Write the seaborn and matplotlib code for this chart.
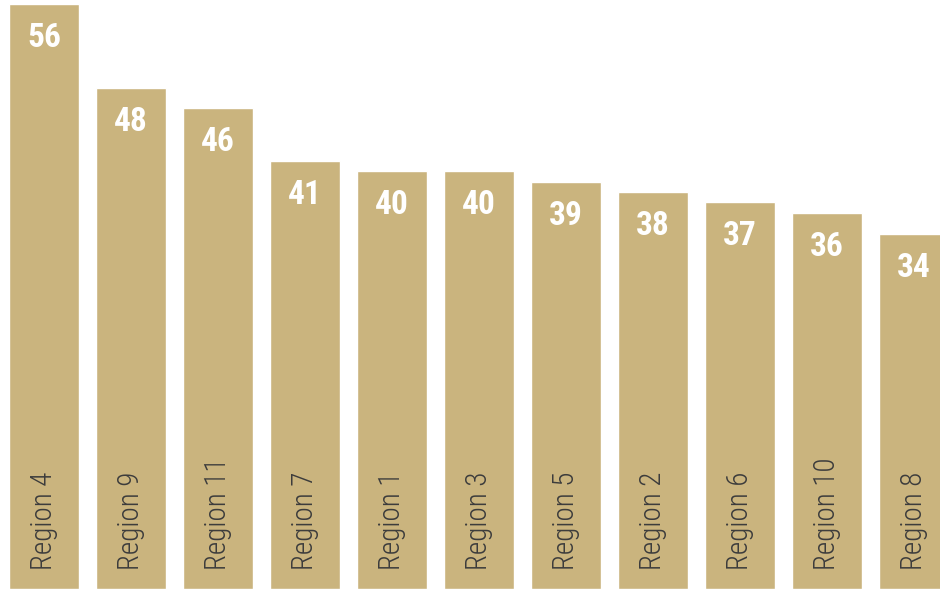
import matplotlib
matplotlib.use("Agg")
import matplotlib.pyplot as plt
from matplotlib import font_manager
import seaborn as sns
import pandas as pd

regions = ["Region 4", "Region 9", "Region 11", "Region 7", "Region 1", "Region 3",
           "Region 5", "Region 2", "Region 6", "Region 10", "Region 8"]
values = [56, 48, 46, 41, 40, 40, 39, 38, 37, 36, 34]

BAR_COLOR = "#CAB47E"
LABEL_COLOR = "#3C3C3C"

names = {f.name for f in font_manager.fontManager.ttflist}
value_font = next((n for n in ["Liberation Sans Narrow", "Roboto Condensed", "Roboto"]
                   if n in names), "DejaVu Sans")
label_font = next((n for n in ["Liberation Sans Narrow", "Roboto Condensed", "Roboto"]
                   if n in names), "DejaVu Sans")

sns.set_theme(style="white")
plt.rcParams["font.family"] = [label_font, "DejaVu Sans"]

df = pd.DataFrame({"region": regions, "value": values})

fig = plt.figure(figsize=(9.4, 5.89), dpi=100)
ax = fig.add_axes([0, 0, 1, 1])
sns.barplot(data=df, x="region", y="value", color=BAR_COLOR, saturation=1,
            width=0.805, ax=ax)

px_per_unit = 585 / 56
ax.set_xlim(-44 / 87, (940 - 44) / 87)
ax.set_ylim(0, 589 / px_per_unit)
ax.axis("off")

pt = 72 / 100  # points per pixel
for i, (r, v) in enumerate(zip(regions, values)):
    ax.annotate(str(v), xy=(i, v), xytext=(0, -34 * pt), textcoords="offset points",
                ha="center", va="center", color="white", fontsize=24,
                fontweight="bold", family=[value_font, "DejaVu Sans"])
    ax.annotate(r, xy=(i, 0), xytext=(0, 19 * pt), textcoords="offset points",
                ha="center", va="bottom", rotation=90, color=LABEL_COLOR,
                fontsize=21, fontweight="light", family=[label_font, "DejaVu Sans"])

fig.savefig("out.png", dpi=100)
